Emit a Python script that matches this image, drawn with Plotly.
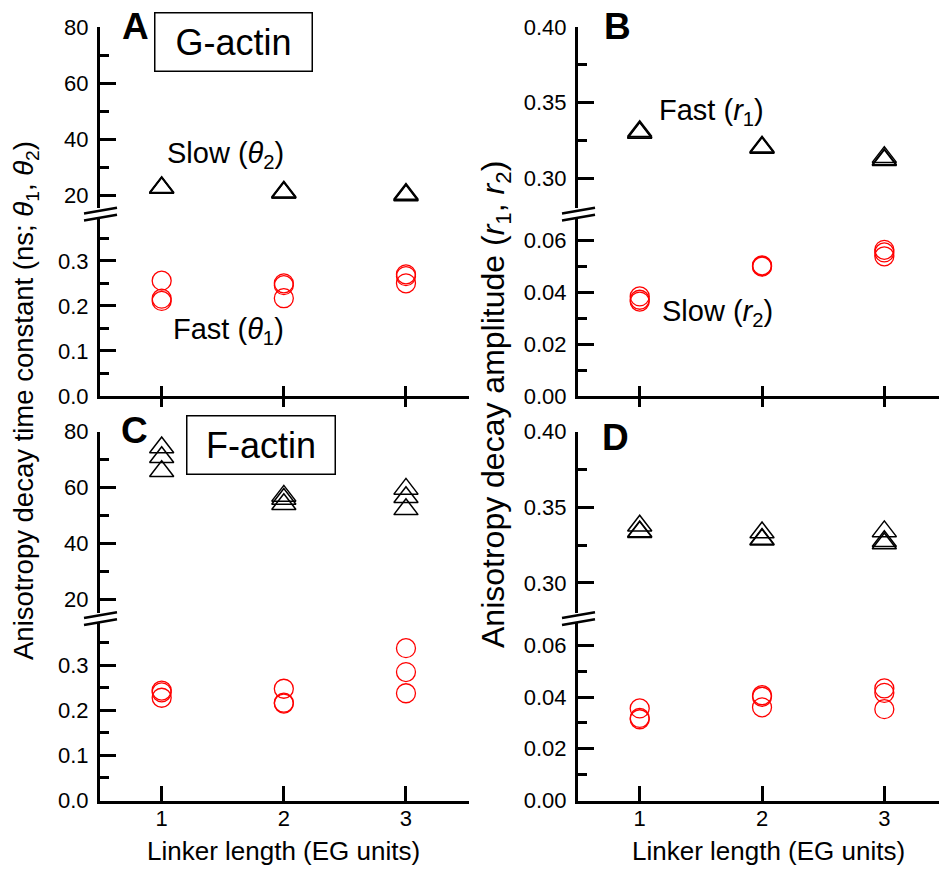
import plotly.graph_objects as go

# ---------------- data ----------------
linker_x = [1, 1, 1, 2, 2, 2, 3, 3, 3]

# G-actin
g_slow_theta2 = [22.8, 22.5, 22.5, 21.2, 20.8, 20.8, 20.4, 20.0, 19.8]
g_fast_theta1 = [0.256, 0.216, 0.211, 0.250, 0.246, 0.217, 0.270, 0.266, 0.250]
g_fast_r1 = [0.3311, 0.3302, 0.3300, 0.3209, 0.3203, 0.3200, 0.3140, 0.3125, 0.3120]
g_slow_r2 = [0.0385, 0.0372, 0.0365, 0.0505, 0.0502, 0.0500, 0.0565, 0.0555, 0.0540]

# F-actin
f_slow_theta2 = [74.3, 70.8, 65.8, 57.0, 55.9, 54.0, 59.5, 56.5, 52.2]
f_fast_theta1 = [0.244, 0.240, 0.228, 0.248, 0.217, 0.215, 0.338, 0.285, 0.238]
f_fast_r1 = [0.3377, 0.3340, 0.3335, 0.3333, 0.3289, 0.3285, 0.3340, 0.3275, 0.3260]
f_slow_r2 = [0.0356, 0.0319, 0.0314, 0.0407, 0.0401, 0.0360, 0.0433, 0.0416, 0.0353]

# tick values / labels
x_ticks = [1, 2, 3]
x_ticktext = ["1", "2", "3"]
theta2_ticks = [20, 40, 60, 80]
theta2_minor = [30, 50, 70]
theta1_ticks = [0.0, 0.1, 0.2, 0.3]
theta1_minor = [0.05, 0.15, 0.25, 0.35]
r1_ticks = [0.30, 0.35, 0.40]
r1_minor = [0.325, 0.375]
r2_ticks = [0.00, 0.02, 0.04, 0.06]
r2_minor = [0.01, 0.03, 0.05]

# ---------------- layout helpers ----------------
W, H = 939, 869
FONT = "Liberation Sans, Arial, Helvetica, sans-serif"


def px(x):
    return x / W


def py(y):
    return 1 - y / H


OFF = 404.5  # vertical offset of bottom row (px)

LEFT_X = [px(100), px(469)]
RIGHT_X = [px(578), 1.0]


def yax(anchor, top, bottom, rng, ticks, minor, fmt):
    return dict(
        anchor=anchor, domain=[py(bottom), py(top)], range=rng, automargin=False,
        showline=True, linewidth=3, linecolor="black",
        ticks="inside", ticklen=16, tickwidth=2.5, tickcolor="black",
        tickmode="array", tickvals=ticks, tickformat=fmt,
        minor=dict(ticks="inside", ticklen=9, tickwidth=2.5, tickcolor="black",
                   tickmode="array", tickvals=minor),
        showgrid=False, zeroline=False,
        tickfont=dict(family=FONT, size=22, color="black"),
        ticklabelstandoff=4,
    )


def xax(anchor, domain, rng, ticklen, labels, overlay=None):
    d = dict(
        anchor=anchor, domain=domain, range=rng, automargin=False,
        showline=overlay is None, linewidth=3, linecolor="black",
        ticks="outside" if overlay else "inside", ticklen=ticklen, tickwidth=2.5,
        tickcolor="black",
        tickmode="array", tickvals=x_ticks, ticktext=x_ticktext,
        showticklabels=labels, showgrid=False, zeroline=False,
        tickfont=dict(family=FONT, size=22, color="black"),
        ticklabelstandoff=-4,
    )
    if overlay:
        d["overlaying"] = overlay
    return d


LRANGE = [0.495, 3.516]
RRANGE = [0.4955, 3.447]

fig = go.Figure()


def add_pts(xa, ya, yvals, sym, color, size, lw):
    fig.add_trace(go.Scatter(
        x=linker_x, y=yvals, mode="markers", xaxis=xa, yaxis=ya,
        marker=dict(symbol=sym, size=size, color=color, line=dict(color=color, width=lw)),
        showlegend=False, hoverinfo="skip", cliponaxis=False,
    ))


TRI = ("triangle-up-open", "black", 21, 1.5)
CIR = ("circle-open", "#ff0000", 19, 1.3)

add_pts("x", "y", g_slow_theta2, *TRI)
add_pts("x", "y2", g_fast_theta1, *CIR)
add_pts("x2", "y3", g_fast_r1, *TRI)
add_pts("x2", "y4", g_slow_r2, *CIR)
add_pts("x3", "y5", f_slow_theta2, *TRI)
add_pts("x3", "y6", f_fast_theta1, *CIR)
add_pts("x4", "y7", f_fast_r1, *TRI)
add_pts("x4", "y8", f_slow_r2, *CIR)
# dummy traces so the overlay tick axes exist
for xa, ya in (("x5", "y2"), ("x6", "y4")):
    fig.add_trace(go.Scatter(x=[None], y=[None], xaxis=xa, yaxis=ya,
                             showlegend=False, hoverinfo="skip"))

UP_T, UP_B, LO_T, LO_B = 27, 208, 218, 396

layout = dict(
    template="none",
    width=W, height=H, margin=dict(l=0, r=0, t=0, b=0, pad=0), autosize=False,
    paper_bgcolor="white", plot_bgcolor="white",
    font=dict(family=FONT, color="black"),
    xaxis=xax("y2", LEFT_X, LRANGE, 10, False),
    xaxis5=xax("y2", LEFT_X, LRANGE, 10, False, overlay="x"),
    xaxis2=xax("y4", RIGHT_X, RRANGE, 10, False),
    xaxis6=xax("y4", RIGHT_X, RRANGE, 10, False, overlay="x2"),
    xaxis3=xax("y6", LEFT_X, LRANGE, 15, True),
    xaxis4=xax("y8", RIGHT_X, RRANGE, 15, True),
    yaxis=yax("x", UP_T, UP_B, [15.36, 80], theta2_ticks, theta2_minor, ".0f"),
    yaxis2=yax("x", LO_T, LO_B, [0, 0.395], theta1_ticks, theta1_minor, ".1f"),
    yaxis3=yax("x2", UP_T, UP_B, [0.2804, 0.40], r1_ticks, r1_minor, ".2f"),
    yaxis4=yax("x2", LO_T, LO_B, [0, 0.0688], r2_ticks, r2_minor, ".2f"),
    yaxis5=yax("x3", UP_T + OFF, UP_B + OFF, [15.36, 80], theta2_ticks, theta2_minor, ".0f"),
    yaxis6=yax("x3", LO_T + OFF, LO_B + OFF, [0, 0.395], theta1_ticks, theta1_minor, ".1f"),
    yaxis7=yax("x4", UP_T + OFF, UP_B + OFF, [0.2804, 0.40], r1_ticks, r1_minor, ".2f"),
    yaxis8=yax("x4", LO_T + OFF, LO_B + OFF, [0, 0.0688], r2_ticks, r2_minor, ".2f"),
)
fig.update_layout(**layout)

# ---------------- axis-break marks ----------------
for ax_x in (100, 578):
    for dy in (0, OFF):
        for y0 in (213.5, 220.5):
            fig.add_shape(type="line", xref="paper", yref="paper",
                          x0=px(ax_x - 16), y0=py(y0 + dy),
                          x1=px(ax_x + 17), y1=py(y0 - 5.7 + dy),
                          line=dict(color="black", width=2.5))


# ---------------- text ----------------
def ann(text, x, y, size, bold=False, **kw):
    fig.add_annotation(text=f"<b>{text}</b>" if bold else text,
                       xref="paper", yref="paper", x=px(x), y=py(y),
                       xanchor=kw.pop("xanchor", "center"), yanchor=kw.pop("yanchor", "middle"),
                       showarrow=False, font=dict(family=FONT, size=size, color="black"), **kw)


ann("A", 135.5, 26, 37, bold=True)
ann("B", 617, 27, 37, bold=True)
ann("C", 134.5, 430, 37, bold=True)
ann("D", 615, 437, 37, bold=True)

ann("G-actin", 233.5, 42, 36, bordercolor="black", borderwidth=1.5, borderpad=0,
    width=156, height=57)
ann("F-actin", 261, 445, 36, bordercolor="black", borderwidth=1.5, borderpad=0,
    width=147, height=57)

ann("Slow (<i>θ</i><sub>2</sub>)", 225.5, 155, 29)
ann("Fast (<i>θ</i><sub>1</sub>)", 228, 331, 29)
ann("Fast (<i>r</i><sub>1</sub>)", 711.7, 112, 29)
ann("Slow (<i>r</i><sub>2</sub>)", 717.4, 313, 29)

ann("Linker length (EG units)", 283.5, 851, 26)
ann("Linker length (EG units)", 768.3, 851, 26)
ann("Anisotropy decay time constant (ns; <i>θ</i><sub>1</sub>, <i>θ</i><sub>2</sub>)",
    26, 401, 27.5, textangle=-90)
ann("Anisotropy decay amplitude (<i>r</i><sub>1</sub>, <i>r</i><sub>2</sub>)",
    495, 404, 32, textangle=-90)

fig.write_html("out.html", config={"displayModeBar": False},
               post_script="document.body.style.margin='0px';")
